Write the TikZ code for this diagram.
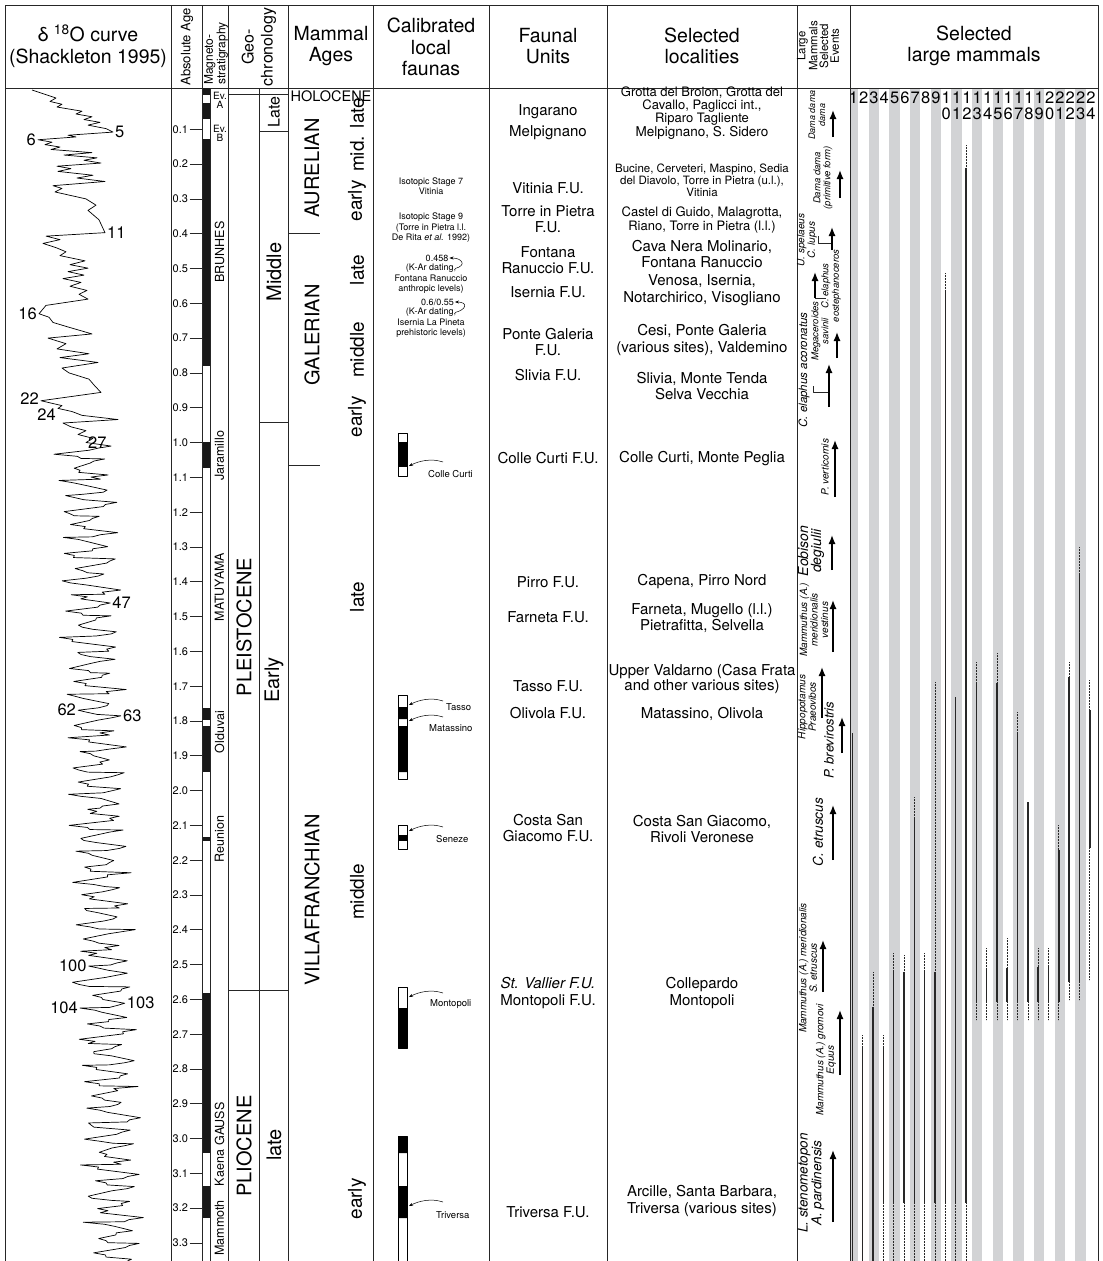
\documentclass[tikz,border=0pt]{standalone}
\usepackage{fontspec}
\setmainfont{TeX Gyre Heros}
\usetikzlibrary{arrows,arrows.meta,positioning,calc}

\definecolor{stripe}{RGB}{210,211,213}
\definecolor{range}{RGB}{40,40,40}
\newcommand{\fsz}[2]{\fontsize{#1}{#2}\selectfont}

\begin{document}
\begin{tikzpicture}[x=1pt, y=-1pt, line join=round,
    declare function={ty(\u)=94.5+348*\u; tk(\k)=1.0102+0.0205*\k+0.004*sin(\k*131);
      mid(\u)=85+13*(\u-1); amp(\k)=22+7*sin(\k*97)+4*cos(\k*53);
      sg(\k)=1-2*mod(\k,2);
      xk(\k)=mid(tk(\k))+sg(\k)*amp(\k); cx(\i)=842+10.33*\i;}]
  \tikzstyle{rule} = [draw=black!85, line width=0.8pt]
  \tikzstyle{head} = [align=center, font=\fsz{19.5}{21.5}]
  \tikzstyle{vhead} = [rotate=90, align=center, inner sep=0pt]
  \tikzstyle{age} = [anchor=west, inner sep=0pt, font=\fsz{11}{11}]
  \tikzstyle{magn} = [rotate=90, inner sep=0pt, font=\fsz{12.5}{12.5}]
  \tikzstyle{era} = [rotate=90, inner sep=0pt, font=\fsz{20}{20}]
  \tikzstyle{peak} = [inner sep=1pt, font=\fsz{16.5}{16.5}]
  \tikzstyle{note} = [align=center, inner sep=0pt, font=\fsz{9}{10.5}]
  \tikzstyle{site} = [anchor=west, inner sep=0pt, font=\fsz{9.5}{9.5}]
  \tikzstyle{unit} = [align=center, inner sep=0pt, font=\fsz{15}{16.5}]
  \tikzstyle{num} = [inner sep=0pt, font=\fsz{16.5}{16.5}]
  \tikzstyle{evt} = [rotate=90, align=center, inner sep=0pt, font=\fsz{10}{10.5}\itshape]
  \tikzstyle{up} = [-{Latex[length=9pt,width=7pt]}, line width=1.3pt]
  \tikzstyle{pointer} = [-{Stealth[length=4pt,width=3pt]}, line width=0.5pt]
  \tikzstyle{sect} = [draw, line width=0.5pt, fill=white]
  \tikzstyle{taxon} = [draw=range, line width=1.6pt]
  \tikzstyle{unsure} = [draw=range, line width=0.9pt, dash pattern=on 0.8pt off 0.7pt]

  \useasboundingbox (0,0) rectangle (1103,1261);

  % stripes of the large mammals
  \foreach \i in {1,3,...,23}
    \fill[stripe] ({max(850,848+(\i-1)*10.33)},88) rectangle ({848+\i*10.33},1261);
  \foreach \i in {1,...,24} {
    \pgfmathtruncatemacro\hi{\i<10 ? \i : int(\i/10)}
    \node[num] (n\i) at ({cx(\i)+1},98) {\hi};
    \ifnum\i>9
      \pgfmathtruncatemacro\lo{mod(\i,10)}
      \node[num] (m\i) at ({cx(\i)+1},114) {\lo};
    \fi
  }

  % ranges
  \foreach \i/\a/\b in {1/733/1261, 2/1047/1261, 3/1007/1261, 4/1047/1203,
      5/972/1203, 6/972/1203, 7/817/1203, 8/972/1203, 9/972/1203,
      10/290/1203, 11/697/1203, 12/168/1203, 13/682/1002, 14/970/1002,
      15/683/1002, 16/968/1002, 17/733/1002, 18/802/1002, 19/967/1002,
      20/967/1002, 21/850/1002, 22/677/982, 23/575/982, 24/710/848}
    \draw[taxon] ({cx(\i)},\a) -- ({cx(\i)},\b);
  \foreach \i/\a/\b in {2/1035/1047, 3/972/1007, 4/1035/1047,
      5/953/972, 6/955/972, 7/797/817, 8/953/972, 9/682/972, 10/273/290,
      12/145/168, 13/662/682, 13/1002/1020, 14/948/970, 14/1002/1020,
      15/653/683, 15/1002/1020, 16/938/968, 16/1002/1020, 17/712/733,
      17/1002/1020, 18/1002/1020, 19/948/967, 19/1002/1020, 20/948/967,
      20/1002/1020, 21/825/850, 21/1002/1020, 22/662/677, 22/982/1000,
      23/547/575, 23/982/1000, 24/680/710, 24/848/980}
    \draw[unsure] ({cx(\i)},\a) -- ({cx(\i)},\b);
  \foreach \i in {4,...,12}
    \draw[unsure] ({cx(\i)},1203) -- ({cx(\i)},1261);

  % frame
  \draw[rule, line width=1pt] (5,1261) -- (5,5) -- (1098,5) -- (1098,1261);
  \draw[rule, line width=1pt] (5,88) -- (1098,88);
  \foreach \x in {171,202.5,228.6,288.6,373,489,607,797.5,850}
    \draw[rule] (\x,5) -- (\x,1261);
  \foreach \x in {210,259}
    \draw[rule] (\x,88) -- (\x,1261);

  % headings
  \node[head] (hdIso) at (88,46) {δ \textsuperscript{18}O curve\\(Shackleton 1995)};
  \node[vhead, font=\fsz{13}{13}] (hdAge) at (187,47) {Absolute Age};
  \node[vhead, align=left, anchor=west, font=\fsz{12}{10.5}] (hdMag) at (216,85) {Magneto-\\stratigraphy};
  \node[vhead, font=\fsz{16}{19}] (hdGeo) at (259,47) {Geo-\\chronology};
  \node[head] (hdMam) at (331,46) {Mammal\\Ages};
  \node[head] (hdCal) at (431,47) {Calibrated\\local\\faunas};
  \node[head] (hdFau) at (548,46) {Faunal\\Units};
  \node[head] (hdLoc) at (702,46) {Selected\\localities};
  \node[vhead, font=\fsz{11.5}{10.7}] (hdEvt) at (818,46) {Large\\Mammals\\Selected\\Events};
  \node[head] (hdLar) at (974,46) {Selected\\large mammals};

  % isotope curve
  \draw[line width=0.7pt] (32,90) \foreach \x/\u in {56/0.010, 50/0.020, 62/0.028,
      57/0.036, 82/0.048, 76/0.056, 92/0.064, 84/0.072, 100/0.080, 88/0.088,
      106/0.098, 113/0.108, 68/0.117, 76/0.122, 38/0.130, 52/0.137, 45/0.144,
      60/0.151, 51/0.158, 92/0.167, 64/0.174, 97/0.182, 84/0.189, 101/0.197,
      57/0.206, 71/0.213, 58/0.221, 93/0.232, 77/0.240, 105/0.250, 53/0.262,
      62/0.270, 55/0.280, 86/0.300, 96/0.318, 88/0.333, 99/0.360, 105/0.397,
      46/0.407, 60/0.417, 43/0.428, 56/0.440, 66/0.452, 60/0.463, 85/0.478,
      70/0.489, 88/0.499, 68/0.509, 84/0.519, 63/0.529, 81/0.540, 70/0.551,
      87/0.563, 79/0.574, 88/0.588, 46/0.606, 39/0.630, 49/0.640, 53/0.655,
      68/0.668, 92/0.688, 48/0.700, 66/0.716, 57/0.731, 89/0.745, 60/0.756,
      98/0.770, 62/0.786, 69/0.800, 89/0.818, 95/0.838, 101/0.856, 41/0.880,
      53/0.888, 62/0.894, 58/0.902, 72/0.911, 82/0.922, 118/0.934, 63/0.944,
      71/0.955, 86/0.966, 78/0.977, 93/0.988, 86/1.000} { -- (\x,{ty(\u)}) }
    \foreach \k in {0,...,114} { -- ({xk(\k)},{ty(tk(\k))})
      -- ({xk(\k)-sg(\k)*amp(\k)*(0.5+0.2*sin(\k*37))+4*sin(\k*71)},{ty(tk(\k)+0.006)})
      -- ({xk(\k)-sg(\k)*amp(\k)*(0.7+0.3*cos(\k*59))+4*cos(\k*89)},{ty(tk(\k)+0.012)}) };
  \node[peak, anchor=west] (p5) at (114,{ty(0.108)}) {5};
  \node[peak, anchor=east] (p6) at (37,{ty(0.130)}) {6};
  \node[peak, anchor=west] (p11) at (106,{ty(0.397)}) {11};
  \node[peak, anchor=east] (p16) at (38,{ty(0.630)}) {16};
  \node[peak, anchor=east] (p22) at (40,{ty(0.880)-2}) {22};
  \node[peak, anchor=east] (p24) at (57,{ty(0.902)+6}) {24};
  \node[peak, anchor=west] (p27) at (87,{ty(1.0)}) {27};
  \node[peak, anchor=west] (p47) at ({xk(22)+1},{ty(tk(22))}) {47};
  \node[peak, anchor=east] (p62) at ({xk(37)-1},{ty(tk(37))}) {62};
  \node[peak, anchor=west] (p63) at ({xk(38)+1},{ty(tk(38))}) {63};
  \node[peak, anchor=east] (p100) at ({xk(73)-1},{ty(tk(73))}) {100};
  \node[peak, anchor=west] (p103) at ({xk(78)+1},{ty(tk(78))}) {103};
  \node[peak, anchor=east] (p104) at ({xk(79)-1},{ty(tk(79))}) {104};

  % absolute age
  \foreach \a [count=\i] in {0.1,0.2,0.3,0.4,0.5,0.6,0.7,0.8,0.9,1.0,1.1,1.2,1.3,
      1.4,1.5,1.6,1.7,1.8,1.9,2.0,2.1,2.2,2.3,2.4,2.5,2.6,2.7,2.8,2.9,3.0,3.1,3.2,3.3} {
    \node[age] (age\i) at (172.5,{94.5+34.8*\i}) {\a};
    \draw[rule, line width=0.6pt] ($(age\i.east)+(1.5,0)$) -- (202.5,{94.5+34.8*\i});
  }

  % magnetostratigraphy
  \foreach \a/\b in {88/95, 102.7/119.3, 139.3/366, 441.7/468.3, 708/720,
      726/771.7, 836.7/840.7, 992.7/1153, 1186/1218}
    \fill[black!90] (202.5,\a) rectangle (210,\b);
  \node[align=center, inner sep=0pt, font=\fsz{10}{9}] (evA) at (220,100) {Ev.\\A};
  \node[align=center, inner sep=0pt, font=\fsz{10}{9}] (evB) at (220,133) {Ev.\\B};
  \node[magn] (brunhes) at (219.5,252) {BRUNHES};
  \node[magn] (jaramillo) at (219.5,456) {Jaramillo};
  \node[magn] (matuyama) at (219.5,587) {MATUYAMA};
  \node[magn] (olduvai) at (219.5,732) {Olduvai};
  \node[magn] (reunion) at (219.5,839) {Reunion};
  \node[magn] (gauss) at (219.5,1124) {GAUSS};
  \node[magn] (kaena) at (219.5,1168) {Kaena};
  \node[magn] (mammoth) at (219.5,1228) {Mammoth};

  % geochronology
  \draw[rule] (228.6,94) -- (288.6,94);
  \draw[rule] (259,131) -- (288.6,131);
  \draw[rule] (259,422) -- (288.6,422);
  \draw[rule] (228.6,990) -- (288.6,990);
  \node[era] (pleisto) at (244,627) {PLEISTOCENE};
  \node[era] (plio) at (244,1146) {PLIOCENE};
  \node[era, font=\fsz{16}{16}] (lateP) at (274,112) {Late};
  \node[era] (middleP) at (274,272) {Middle};
  \node[era] (earlyP) at (274,680) {Early};
  \node[era] (latePl) at (274,1145) {late};

  % mammal ages
  \node[inner sep=0pt, font=\fsz{14.5}{14.5}] (holo) at (331,96) {HOLOCENE};
  \draw[rule] (288.6,233) -- (320,233);
  \draw[rule] (288.6,465) -- (320,465);
  \node[era] (aurel) at (312,168) {AURELIAN};
  \node[era] (galer) at (312,335) {GALERIAN};
  \node[era] (villa) at (312,900) {VILLAFRANCHIAN};
  \foreach \n/\y/\s in {aLate/113/late, aMid/154/mid., aEarly/201/early,
      gLate/270/late, gMiddle/350/middle, gEarly/417/early,
      vLate/597/late, vMiddle/892/middle, vEarly/1199/early}
    \node[era, font=\fsz{19}{19}] (\n) at (357,\y) {\s};

  % calibrated local faunas
  \node[note] (stage7) at (431,186) {Isotopic Stage 7\\Vitinia};
  \node[note] (stage9) at (431,228) {Isotopic Stage 9\\(Torre in Pietra l.l.\\De Rita \textit{et al.} 1992)};
  \node[note] (val458) at (437,258) {0.458};
  \node[note] (kar458) at (431,279) {(K-Ar dating,\\Fontana Ranuccio\\anthropic levels)};
  \draw[pointer, shorten >=1pt] ($(kar458.north)+(24,4.5)$) .. controls +(12,-3) and +(14,0) .. (val458.east);
  \node[note] (val06) at (437.5,302) {0.6/0.55};
  \node[note] (kar06) at (431,323) {(K-Ar dating,\\Isernia La Pineta\\prehistoric levels)};
  \draw[pointer, shorten >=1pt] ($(kar06.north)+(24,4.5)$) .. controls +(12,-3) and +(14,0) .. (val06.east);

  \draw[sect] (398,433) rectangle (407,476);
  \fill (398,442) rectangle (407,467);
  \draw[sect] (398,695) rectangle (407,779);
  \fill (398,707) rectangle (407,719) (398,726) rectangle (407,772);
  \draw[sect] (398,825) rectangle (407,849);
  \fill (398,835) rectangle (407,841);
  \draw[sect] (398,987) rectangle (407,1048);
  \fill (398,1008) rectangle (407,1048);
  \draw[sect] (398,1136) rectangle (407,1270);
  \fill (398,1136) rectangle (407,1153) (398,1186) rectangle (407,1218);

  \foreach \n/\x/\y/\s/\e in {colle/428/474/Colle Curti/466, tasso/446/707/Tasso/705,
      matass/429/728/Matassino/721, seneze/436/839/Seneze/831,
      monto/430/1004/Montopoli/997, trivers/436/1215/Triversa/1206} {
    \node[site] (\n) at (\x,\y) {\s};
    \coordinate (\n Tip) at (409,\e);
    \draw[pointer] (443,{\e-4}) .. controls +(-12,-4) and +(10,-5) .. (\n Tip);
  }

  % faunal units
  \node[unit] (fuIng) at (548,112) {Ingarano};
  \node[unit] (fuMelp) at (548,133) {Melpignano};
  \node[unit] (fuVit) at (548,188) {Vitinia F.U.};
  \node[unit] (fuTorre) at (548,219) {Torre in Pietra\\F.U.};
  \node[unit] (fuFont) at (548,260) {Fontana\\Ranuccio F.U.};
  \node[unit] (fuIser) at (548,292) {Isernia F.U.};
  \node[unit] (fuPonte) at (548,342) {Ponte Galeria\\F.U.};
  \node[unit] (fuSliv) at (548,375) {Slivia F.U.};
  \node[unit] (fuColle) at (548,458) {Colle Curti F.U.};
  \node[unit] (fuPirro) at (548,582) {Pirro F.U.};
  \node[unit] (fuFarn) at (548,617) {Farneta F.U.};
  \node[unit] (fuTasso) at (548,686) {Tasso F.U.};
  \node[unit] (fuOliv) at (548,713) {Olivola F.U.};
  \node[unit] (fuCosta) at (548,828) {Costa San\\Giacomo F.U.};
  \node[unit] (fuMonto) at (548,993) {\textit{St. Vallier F.U.}\\Montopoli F.U.};
  \node[unit] (fuTriv) at (548,1212) {Triversa F.U.};

  % selected localities
  \node[unit, font=\fsz{13}{11}] (locBroion) at (702,106) {Grotta del Broion, Grotta del\\Cavallo, Paglicci int.,\\Riparo Tagliente};
  \node[unit, font=\fsz{13.5}{14}] (locMelp) at (702,133) {Melpignano, S. Sidero};
  \node[unit, font=\fsz{11.5}{10.5}] (locBucine) at (702,180) {Bucine, Cerveteri, Maspino, Sedia\\del Diavolo, Torre in Pietra (u.l.),\\Vitinia};
  \node[unit, font=\fsz{13}{13.5}] (locCastel) at (702,220) {Castel di Guido, Malagrotta,\\Riano, Torre in Pietra (l.l.)};
  \node[unit] (locCava) at (702,254) {Cava Nera Molinario,\\Fontana Ranuccio};
  \node[unit] (locVenosa) at (702,290) {Venosa, Isernia,\\Notarchirico, Visogliano};
  \node[unit] (locCesi) at (702,340) {Cesi, Ponte Galeria\\(various sites), Valdemino};
  \node[unit] (locSlivia) at (702,386) {Slivia, Monte Tenda\\Selva Vecchia};
  \node[unit] (locColle) at (702,459) {Colle Curti, Monte Peglia};
  \node[unit] (locPirro) at (702,582) {Capena, Pirro Nord};
  \node[unit] (locFarn) at (702,618) {Farneta, Mugello (l.l.)\\Pietrafitta, Selvella};
  \node[unit, font=\fsz{15}{14}] (locValdarno) at (702,679) {Upper Valdarno (Casa Frata\\and other various sites)};
  \node[unit] (locMatass) at (702,714) {Matassino, Olivola};
  \node[unit] (locCosta) at (702,829) {Costa San Giacomo,\\Rivoli Veronese};
  \node[unit] (locCollep) at (702,993) {Collepardo\\Montopoli};
  \node[unit] (locArcille) at (702,1201) {Arcille, Santa Barbara,\\Triversa (various sites)};

  % selected events
  \node[evt, font=\fsz{9}{10}\itshape] (evDama) at (817,115) {Dama dama\\dama};
  \draw[up] (833,137) -- (833,110);
  \node[evt, font=\fsz{9.5}{10}\itshape] (evDamaP) at (823,178) {Dama dama\\(primitive form)};
  \draw[up] (840,198) -- (840,170);
  \node[evt] (evUrsus) at (807,240) {U. spelaeus\\C. lupus};
  \draw[rule, line width=0.7pt] (818,236) -- (818,243) -- (832,243);
  \draw[up] (832,250) -- (832,227);
  \node[evt, font=\fsz{9.5}{10.5}\itshape] (evElEo) at (831,286) {C. elaphus\\eostephanoceros};
  \draw[rule, line width=0.7pt] (826,298) -- (815,298);
  \draw[up] (815,298) -- (815,272);
  \node[evt, font=\fsz{9.5}{10}\itshape] (evMega) at (820,331) {Megaceroides\\savinii};
  \draw[up] (837,358) -- (837,332);
  \node[evt, font=\fsz{11.5}{11.5}\itshape] (evAcor) at (804,370) {C. elaphus acoronatus};
  \draw[rule, line width=0.7pt] (813,386) -- (813,392) -- (829,392);
  \draw[up] (829,407) -- (829,364);
  \node[evt] (evVert) at (825,467) {P. verticornis};
  \draw[up] (835,497) -- (835,440);
  \node[evt, font=\fsz{14}{13}\itshape] (evEob) at (811,551) {Eobison\\degiulii};
  \draw[up] (832,570) -- (832,535);
  \node[evt] (evVest) at (814,620) {Mammuthus (A.)\\meridionalis\\vestinus};
  \draw[up] (833,652) -- (833,600);
  \node[evt] (evHipp) at (807,707) {Hippopotamus\\Praeovibos};
  \draw[up] (822,718) -- (822,667);
  \node[evt, font=\fsz{13}{13}\itshape] (evBrev) at (829,740) {P. brevirostris};
  \draw[up] (842,753) -- (842,717);
  \node[evt, font=\fsz{13.5}{13.5}\itshape] (evEtr) at (818,832) {C. etruscus};
  \draw[up] (833,860) -- (833,805);
  \node[evt] (evMerid) at (808,968) {Mammuthus (A.) meridionalis\\S. etruscus};
  \draw[up] (823,992) -- (823,940);
  \node[evt] (evGrom) at (826,1060) {Mammuthus (A.) gromovi\\Equus};
  \draw[up] (840,1075) -- (840,1010);
  \node[evt, font=\fsz{13.5}{12.5}\itshape] (evSten) at (811,1183) {L. stenometopon\\A. pardinensis};
  \draw[up] (833,1222) -- (833,1150);
\end{tikzpicture}
\end{document}
